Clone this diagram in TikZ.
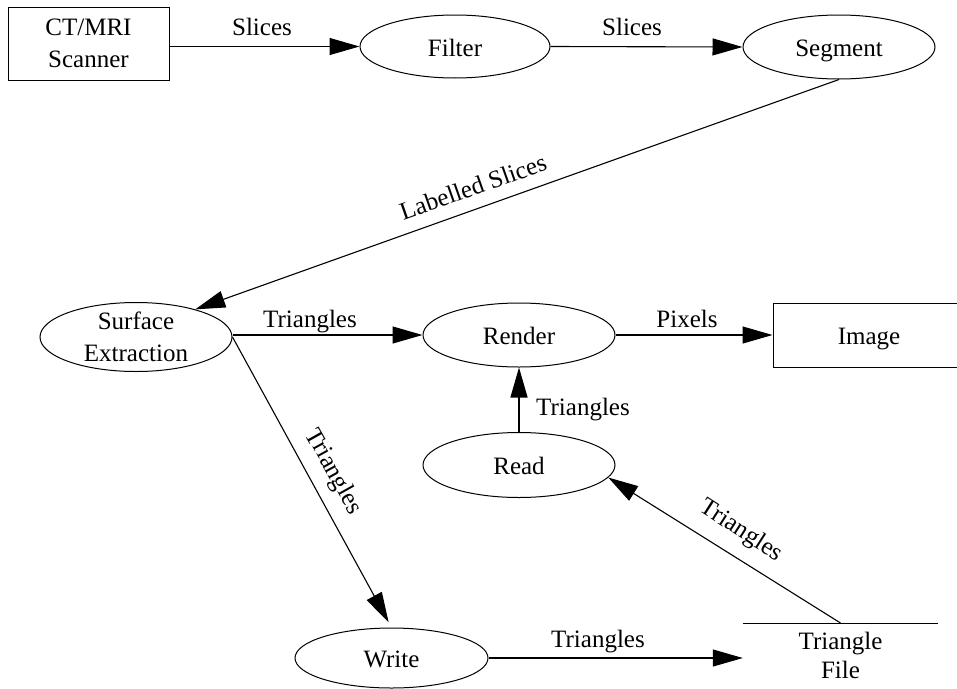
\documentclass[tikz,border=0pt]{standalone}
\usepackage{fontspec}
\setmainfont{Liberation Serif}
\usetikzlibrary{shapes.geometric,arrows.meta}
\begin{document}
\begin{tikzpicture}[x=1pt,y=-1pt,
  every node/.style={font=\fontsize{25}{32}\selectfont},
  ell/.style={draw, ellipse, line width=1pt, inner sep=0pt, minimum width=192pt, minimum height=64pt, text height=19pt, text depth=0pt},
  box/.style={draw, rectangle, line width=1pt, inner sep=0pt},
  arr/.style={line width=1.1pt, -{Triangle[length=30pt,width=17pt]}},
  lbl/.style={inner sep=0pt, anchor=base},
  rlbl/.style={inner sep=0pt}]
\useasboundingbox (0,0) rectangle (957,688);
% nodes
\node[box, minimum width=161pt, minimum height=73pt, align=center] (scanner) at (88.5,43.5) {CT/MRI\\Scanner};
\node[ell, minimum width=190pt, minimum height=63pt] (filter) at (455,46.5) {Filter};
\node[ell] (segment) at (839,47) {Segment};
\node[draw, ellipse, line width=1pt, inner sep=0pt, minimum width=192pt, minimum height=69pt] (surf) at (136,337) {};
\node[align=center, inner sep=0pt] (surftext) at (surf) {Surface\\Extraction};
\node[ell] (render) at (519,335) {Render};
\node[box, minimum width=192pt, minimum height=64pt, text height=19pt, text depth=0pt] (image) at (869,335) {Image};
\node[ell, minimum height=65pt] (read) at (519,465) {Read};
\node[ell, minimum width=193pt, minimum height=60pt] (write) at (391.5,658) {Write};
\node[align=center, minimum width=195pt, anchor=north, inner xsep=0pt, inner ysep=9pt] (file) at (840.5,623) {Triangle\\[-3pt]File};
\draw[line width=1pt] (file.north west) -- (file.north east);
% connectors
\draw[arr] (scanner.east |- filter.west) -- (filter.west);
\draw[arr] (filter.east) -- (segment.west);
\draw[arr] (segment.south) -- (surf.25);
\draw[arr] (surf.east |- render.west) -- (render.west);
\draw[arr] (render.east) -- (image.west);
\draw[arr] (read) -- (render);
\draw[arr, shorten >=6pt] (surf.east) -- (write.north);
\draw[arr] (write.east) -- (write.east -| file.west);
\draw[arr] (file.north) -- (read.-8);
% labels
\node[lbl] (l1) at (262,35) {Slices};
\node[lbl] (l2) at (632,35) {Slices};
\node[rlbl, rotate=19.4] (l3) at (473,187) {Labelled Slices};
\node[lbl] (l4) at (310,327) {Triangles};
\node[lbl] (l5) at (687,327) {Pixels};
\node[lbl] (l6) at (583,415) {Triangles};
\node[rlbl, rotate=-60.8] (l7) at (333,472) {Triangles};
\node[lbl] (l8) at (598,647) {Triangles};
\node[rlbl, rotate=-32.7] (l9) at (741,531) {Triangles};
\end{tikzpicture}
\end{document}
